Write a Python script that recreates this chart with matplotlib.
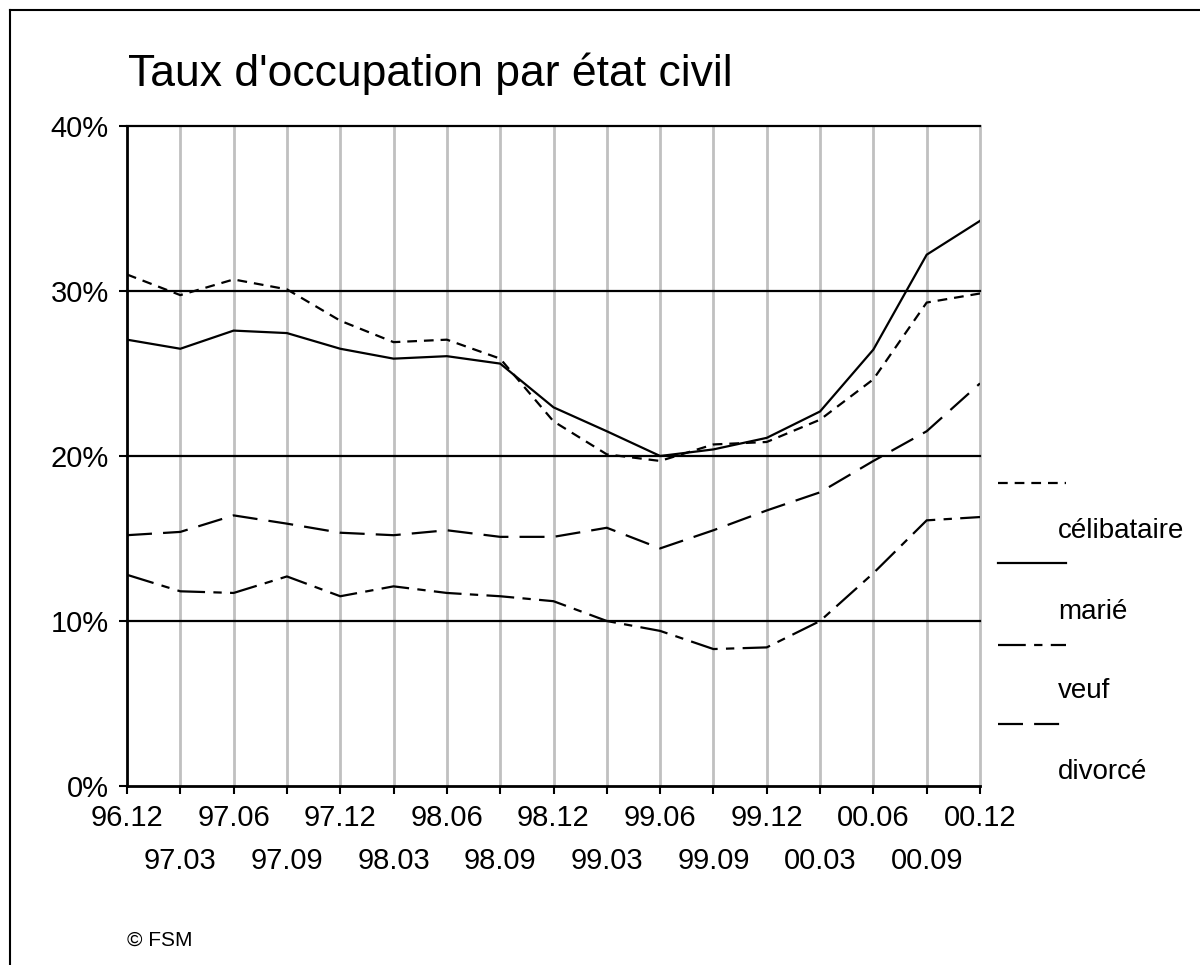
import matplotlib
matplotlib.use('Agg')
import matplotlib.pyplot as plt
from matplotlib.lines import Line2D

plt.rcParams['font.family'] = ['Liberation Sans', 'DejaVu Sans']
plt.rcParams['lines.scale_dashes'] = False

periods = ['96.12', '97.03', '97.06', '97.09', '97.12', '98.03', '98.06', '98.09',
           '98.12', '99.03', '99.06', '99.09', '99.12', '00.03', '00.06', '00.09', '00.12']
celibataire = [31.0, 29.75, 30.7, 30.1, 28.2, 26.9, 27.05, 25.9, 22.1, 20.1, 19.7,
               20.7, 20.85, 22.2, 24.65, 29.3, 29.85]
marie = [27.05, 26.5, 27.6, 27.45, 26.5, 25.9, 26.05, 25.6, 22.95, 21.5, 20.0,
         20.4, 21.1, 22.7, 26.45, 32.2, 34.25]
veuf = [12.8, 11.8, 11.7, 12.7, 11.5, 12.1, 11.7, 11.5, 11.2, 10.0, 9.4,
        8.3, 8.4, 10.0, 12.9, 16.1, 16.3]
divorce = [15.2, 15.4, 16.4, 15.9, 15.35, 15.2, 15.5, 15.1, 15.1, 15.65, 14.4,
           15.5, 16.7, 17.8, 19.7, 21.5, 24.4]
labels = ['célibataire', 'marié', 'veuf', 'divorcé']
yticks = [0, 10, 20, 30, 40]

W, H = 1200, 965
fig = plt.figure(figsize=(W / 100, H / 100), dpi=100)
ax = fig.add_axes([127 / W, 1 - 786 / H, 853 / W, 660 / H])

lw = 1.6
styles = [
    dict(linestyle=(0, (7, 5))),
    dict(linestyle='-'),
    dict(linestyle=(0, (20, 6, 6, 6))),
    dict(linestyle=(0, (18, 8))),
]
series = [celibataire, marie, veuf, divorce]
x = list(range(len(periods)))
for vals, st in zip(series, styles):
    ax.plot(x, vals, color='black', lw=lw, solid_joinstyle='miter',
            dash_joinstyle='miter', zorder=3, **st)

ax.set_xlim(0, len(periods) - 1)
ax.set_ylim(0, 40)
for xi in x[1:]:
    ax.axvline(xi, color='#c0c0c0', lw=2, zorder=1, clip_on=False)
for yv in yticks[1:]:
    ax.axhline(yv, color='black', lw=1.6, zorder=2, clip_on=False)

for s in ['top', 'right']:
    ax.spines[s].set_visible(False)
ax.spines['left'].set_linewidth(2)
ax.spines['bottom'].set_linewidth(2)

ax.set_yticks(yticks)
ax.set_yticklabels([f'{v}%' for v in yticks], fontsize=21)
ax.set_xticks(x[0::2])
ax.set_xticklabels(periods[0::2], fontsize=21)
ax.set_xticks(x[1::2], minor=True)
ax.set_xticklabels(periods[1::2], minor=True, fontsize=21)
ax.tick_params(axis='both', which='both', direction='out', length=6, width=1.5,
               color='black')
ax.tick_params(axis='x', which='major', pad=7)
ax.tick_params(axis='x', which='minor', pad=38)
ax.tick_params(axis='y', pad=7)

fig.text(128 / W, 1 - 74 / H, "Taux d'occupation par état civil", fontsize=32,
         va='center', ha='left')
fig.text(127 / W, 1 - 940 / H, '© FSM', fontsize=15, va='center', ha='left')

# legend, Excel style: key line above each label
key_y = [483, 563, 645, 724]
text_y = [531, 612, 691, 772]
for st, ky, ty, lab in zip(styles, key_y, text_y, labels):
    fig.add_artist(Line2D([998 / W, 1066 / W], [1 - ky / H, 1 - ky / H],
                          color='black', lw=lw, **st))
    fig.text(1058 / W, 1 - ty / H, lab, fontsize=20, va='center', ha='left')

# chart border (top and left)
fig.add_artist(Line2D([10 / W, 1], [1 - 10 / H, 1 - 10 / H], color='black', lw=1.5))
fig.add_artist(Line2D([10 / W, 10 / W], [0, 1 - 10 / H], color='black', lw=1.5))

fig.savefig('out.png', dpi=100)
